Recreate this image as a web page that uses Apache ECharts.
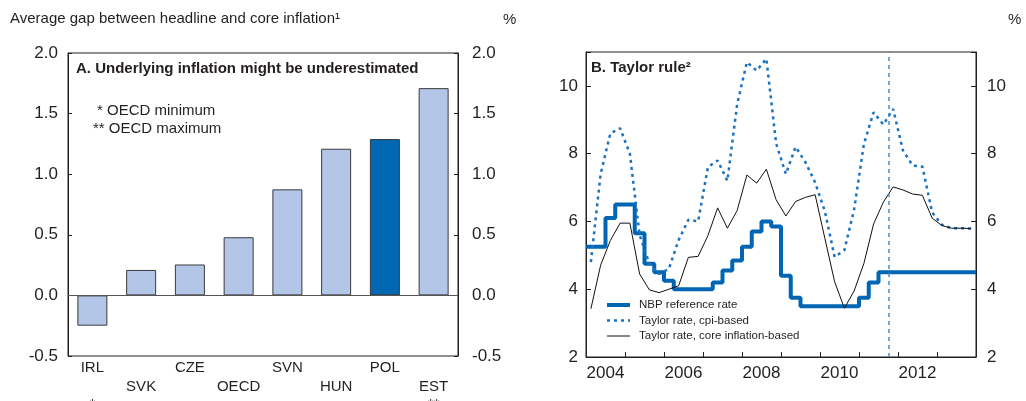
<!DOCTYPE html>
<html><head><meta charset="utf-8">
<script src="https://cdn.jsdelivr.net/npm/echarts@6/dist/echarts.min.js"></script>
<style>html,body{margin:0;padding:0;background:#fff}#c{width:1026px;height:401px}</style>
</head><body><div id="c"></div>
<script>
// ---------- Panel A data ----------
const categories = ['IRL', 'SVK', 'CZE', 'OECD', 'SVN', 'HUN', 'POL', 'EST'];
const gapValues = [-0.25, 0.21, 0.255, 0.48, 0.875, 1.21, 1.29, 1.71];
const categoryMarks = { IRL: '*', EST: '**' };
const highlighted = 'POL';
const yTicksA = { min: -0.5, max: 2.0, step: 0.5 };

// ---------- Panel B data (quarterly, 2004Q1 .. 2013Q4) ----------
const firstYear = 2004;
const nbpRate = [
  5.25, 5.25, 6.1, 6.5,
  6.5, 5.65, 4.75, 4.5,
  4.25, 4.0, 4.0, 4.0,
  4.0, 4.2, 4.55, 4.85,
  5.25, 5.7, 6.0, 5.85,
  4.4, 3.75, 3.5, 3.5,
  3.5, 3.5, 3.5, 3.5,
  3.75, 4.2, 4.5, 4.5,
  4.5, 4.5, 4.5, 4.5,
  4.5, 4.5, 4.5, 4.5
];
const cpiTaylor = [
  4.8, 7.4, 8.6, 8.75,
  8.0, 5.6, 4.75, 4.45,
  4.6, 5.45, 6.05, 6.0,
  7.6, 7.8, 7.2, 9.45,
  10.7, 10.45, 10.8, 8.3,
  7.4, 8.2, 7.75, 7.15,
  6.3, 4.95, 5.15, 6.35,
  8.28, 9.22, 8.86, 9.32,
  8.1, 7.65, 7.62, 6.27,
  5.9, 5.8, 5.8, 5.79
];
const coreTaylor = [
  3.42, 4.71, 5.44, 5.95,
  5.95, 4.45, 3.98, 3.9,
  4.0, 4.1, 4.94, 4.97,
  5.58, 6.4, 5.8, 6.32,
  7.37, 7.13, 7.54, 6.64,
  6.16, 6.59, 6.71, 6.79,
  5.5, 4.22, 3.44, 3.95,
  4.76, 5.93, 6.57, 7.02,
  6.93, 6.81, 6.77, 6.1,
  5.88, 5.8, 5.8, 5.79
];
const projectionStart = 2011.75;
const yearLabels = ['2004', '2006', '2008', '2010', '2012'];
const yTicksB = { min: 2, max: 11, step: 2 };
const seriesNames = ['NBP reference rate', 'Taylor rate, cpi-based', 'Taylor rate, core inflation-based'];

// ---------- build ----------
const FONT = '"Liberation Sans", Arial, Helvetica, sans-serif';
const TXT = '#231f20';
const LIGHT = '#b3c6e7', DARK = '#0067b2', BLUE = '#0066b3', DOT = '#1a72c0';

// step series: value held over each quarter, last value held to end of axis
const nbpData = nbpRate.map((v, i) => [firstYear + i / 4, v]);
nbpData.push([firstYear + nbpRate.length / 4, nbpRate[nbpRate.length - 1]]);
// Taylor series: plotted at quarter mid-points
const cpiData = cpiTaylor.map((v, i) => [firstYear + (i + 0.5) / 4, v]);
const coreData = coreTaylor.map((v, i) => [firstYear + (i + 0.5) / 4, v]);

const chart = echarts.init(document.getElementById('c'), null, { renderer: 'canvas' });

const axisLineStyle = { color: '#231f20', width: 1 };
const hiddenSymbol = { color: 'rgba(0,0,0,0)', borderColor: 'rgba(0,0,0,0)', borderWidth: 0, opacity: 0 };

const option = {
  animation: false,
  backgroundColor: '#fff',
  textStyle: { fontFamily: FONT },
  grid: [
    { left: 68, top: 53, width: 390, height: 303, show: true, borderColor: '#231f20', borderWidth: 1, outerBoundsMode: 'none', containLabel: false },
    { left: 586, top: 52, width: 390, height: 305, show: true, borderColor: '#231f20', borderWidth: 1, outerBoundsMode: 'none', containLabel: false }
  ],
  xAxis: [
    {
      type: 'category', gridIndex: 0, data: categories,
      axisLine: { show: false }, axisTick: { show: false }, splitLine: { show: false },
      axisLabel: {
        interval: 0, fontSize: 15, color: TXT, lineHeight: 18.5, margin: 3, fontFamily: FONT,
        formatter: (value, index) => {
          const lower = index % 2 === 1;
          let s = (lower ? '\n' : '') + value;
          if (categoryMarks[value]) s += (lower ? '\n' : '\n\n') + categoryMarks[value];
          return s;
        }
      }
    },
    {
      type: 'value', gridIndex: 1, min: 2004, max: 2014, interval: 1, position: 'bottom',
      axisLine: { show: true, onZero: false, lineStyle: axisLineStyle },
      axisTick: { show: true, inside: true, length: 5, lineStyle: axisLineStyle },
      axisLabel: { show: false }, splitLine: { show: false }
    },
    {
      type: 'value', gridIndex: 1, min: 2004, max: 2014, interval: 0.5, position: 'bottom',
      axisLine: { show: false, onZero: false }, axisTick: { show: false }, splitLine: { show: false },
      axisLabel: {
        fontSize: 17, color: TXT, margin: 8, fontFamily: FONT,
        formatter: (v) => {
          if (Math.abs(v - Math.floor(v) - 0.5) > 1e-6) return '';
          const y = String(Math.floor(v));
          return yearLabels.includes(y) ? y : '';
        }
      }
    }
  ],
  yAxis: [
    {
      type: 'value', gridIndex: 0, position: 'left', min: yTicksA.min, max: yTicksA.max, interval: yTicksA.step,
      axisLine: { show: true, onZero: false, lineStyle: axisLineStyle },
      axisTick: { show: true, inside: true, length: 4, lineStyle: axisLineStyle },
      splitLine: { show: false },
      axisLabel: { fontSize: 17, color: TXT, margin: 10, formatter: v => v.toFixed(1) }
    },
    {
      type: 'value', gridIndex: 0, position: 'right', min: yTicksA.min, max: yTicksA.max, interval: yTicksA.step,
      axisLine: { show: true, onZero: false, lineStyle: axisLineStyle },
      axisTick: { show: true, inside: true, length: 4, lineStyle: axisLineStyle },
      splitLine: { show: false },
      axisLabel: { fontSize: 17, color: TXT, margin: 14, formatter: v => v.toFixed(1) }
    },
    {
      type: 'value', gridIndex: 1, position: 'left', min: yTicksB.min, max: yTicksB.max, interval: yTicksB.step,
      axisLine: { show: true, onZero: false, lineStyle: axisLineStyle },
      axisTick: { show: true, inside: true, length: 5, lineStyle: axisLineStyle },
      splitLine: { show: false },
      axisLabel: { fontSize: 17, color: TXT, margin: 8, formatter: v => (v > 10 ? '' : String(v)) }
    },
    {
      type: 'value', gridIndex: 1, position: 'right', min: yTicksB.min, max: yTicksB.max, interval: yTicksB.step,
      axisLine: { show: true, onZero: false, lineStyle: axisLineStyle },
      axisTick: { show: true, inside: true, length: 5, lineStyle: axisLineStyle },
      splitLine: { show: false },
      axisLabel: { fontSize: 17, color: TXT, margin: 11, formatter: v => (v > 10 ? '' : String(v)) }
    }
  ],
  legend: {
    orient: 'vertical', left: 600, top: 294, itemWidth: 23, itemHeight: 12, itemGap: 3.5,
    itemStyle: hiddenSymbol,
    textStyle: { fontSize: 11.5, color: TXT, fontFamily: FONT, padding: [0, 0, 0, 4] },
    data: [
      { name: seriesNames[0], itemStyle: hiddenSymbol, lineStyle: { width: 4, color: BLUE, type: 'solid' } },
      { name: seriesNames[1], itemStyle: hiddenSymbol, lineStyle: { width: 2.5, color: DOT, type: [3, 4] } },
      { name: seriesNames[2], itemStyle: hiddenSymbol, lineStyle: { width: 1, color: '#111', type: 'solid' } }
    ]
  },
  series: [
    {
      type: 'bar', xAxisIndex: 0, yAxisIndex: 0, barWidth: 30,
      data: gapValues.map((v, i) => ({ value: v, itemStyle: { color: categories[i] === highlighted ? DARK : LIGHT } })),
      itemStyle: { borderColor: '#3a3a3a', borderWidth: 1 },
      markLine: {
        silent: true, symbol: 'none', label: { show: false },
        lineStyle: { color: '#555', width: 1, type: 'solid' },
        data: [{ yAxis: 0 }]
      }
    },
    {
      name: seriesNames[0], type: 'line', xAxisIndex: 1, yAxisIndex: 2, step: 'end',
      data: nbpData, symbol: 'none', showSymbol: false,
      lineStyle: { color: BLUE, width: 4 }, itemStyle: { color: BLUE },
      markLine: {
        silent: true, symbol: 'none', label: { show: false },
        lineStyle: { color: '#3d8fd1', width: 1.5, type: [4, 4] },
        data: [{ xAxis: projectionStart }]
      }
    },
    {
      name: seriesNames[1], type: 'line', xAxisIndex: 1, yAxisIndex: 2,
      data: cpiData, symbol: 'none', showSymbol: false,
      lineStyle: { color: DOT, width: 2.5, type: [3, 4] }, itemStyle: { color: DOT }
    },
    {
      name: seriesNames[2], type: 'line', xAxisIndex: 1, yAxisIndex: 2,
      data: coreData, symbol: 'none', showSymbol: false,
      lineStyle: { color: '#111', width: 1 }, itemStyle: { color: '#111' }
    }
  ],
  graphic: [
    { type: 'text', left: 10, top: 11, style: { text: 'Average gap between headline and core inflation\u00b9', font: '15px ' + FONT, fill: TXT } },
    { type: 'text', left: 503, top: 12, style: { text: '%', font: '15px ' + FONT, fill: TXT } },
    { type: 'text', left: 1008, top: 12, style: { text: '%', font: '15px ' + FONT, fill: TXT } },
    { type: 'text', left: 76, top: 61, style: { text: 'A. Underlying inflation might be underestimated', font: 'bold 15px ' + FONT, fill: TXT } },
    { type: 'text', left: 97, top: 103, style: { text: '* OECD minimum', font: '15px ' + FONT, fill: TXT } },
    { type: 'text', left: 93, top: 121, style: { text: '** OECD maximum', font: '15px ' + FONT, fill: TXT } },
    { type: 'text', left: 591, top: 60, style: { text: 'B. Taylor rule\u00b2', font: 'bold 15px ' + FONT, fill: TXT } }
  ]
};
chart.setOption(option);
</script>
</body></html>
